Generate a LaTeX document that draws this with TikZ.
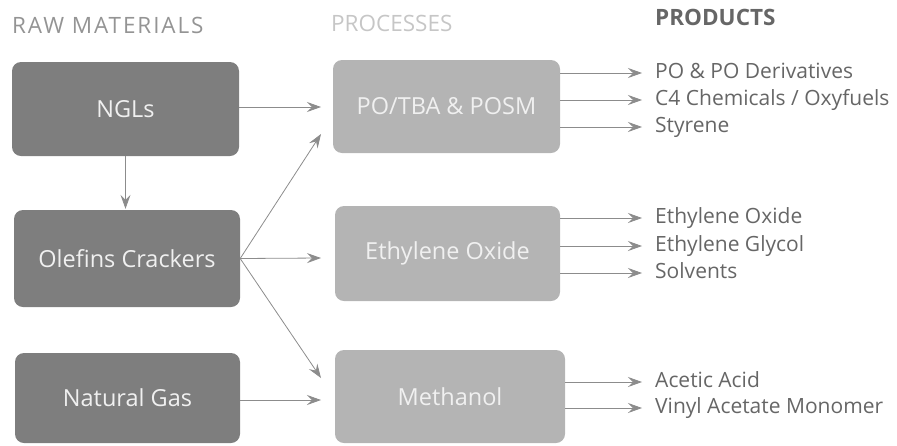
\documentclass[tikz,border=0pt]{standalone}
\usepackage{fontspec}
\setmainfont{Open Sans}
\usetikzlibrary{arrows.meta}
\definecolor{rawbox}{HTML}{7E7E7E}
\definecolor{procbox}{HTML}{B4B4B4}
\definecolor{linecol}{HTML}{8C8C8C}
\definecolor{prodtext}{HTML}{666666}
\definecolor{rawhead}{HTML}{949494}
\definecolor{prochead}{HTML}{C6C6C6}
\begin{document}
\begin{tikzpicture}[x=1pt,y=-1pt,
  rawstyle/.style={fill=rawbox,rounded corners=9pt},
  procstyle/.style={fill=procbox,rounded corners=9pt},
  boxtext/.style={inner sep=0pt,text=white!94!black,font=\fontsize{23.5}{28}\selectfont},
  prod/.style={anchor=west,inner sep=0pt,text=prodtext,text height=10pt,text depth=0pt,
    font=\fontsize{21}{25}\selectfont},
  head/.style={anchor=base west,inner sep=0pt},
  arr/.style={draw=linecol,line width=0.8pt,-{Stealth[length=14pt,width=10pt,inset=5pt]}}
]
\useasboundingbox (0,0) rectangle (897,445);
% headers
\node[head,text=rawhead,font=\fontsize{22.5}{26}\selectfont\addfontfeature{LetterSpace=8.5}] (h1) at (12,33) {RAW MATERIALS};
\node[head,text=prochead,font=\fontsize{22.5}{26}\selectfont] (h2) at (331,31) {PROCESSES};
\node[head,text=prodtext,font=\fontsize{22.5}{26}\selectfont\bfseries] (h3) at (655,25) {PRODUCTS};
% raw material boxes
\path[rawstyle] (12,62) rectangle (239,156);
\node[boxtext,minimum width=227pt,minimum height=94pt] (ngl) at (125.5,109) {NGLs};
\path[rawstyle] (14,210) rectangle (240,307);
\node[boxtext,minimum width=226pt,minimum height=97pt] (ole) at (127,258.5) {Olefins Crackers};
\path[rawstyle] (15,353) rectangle (240,443);
\node[boxtext,minimum width=225pt,minimum height=90pt] (ng) at (127.5,398) {Natural Gas};
% process boxes
\path[procstyle] (333,60) rectangle (560,153);
\node[boxtext,minimum width=227pt,minimum height=93pt] (po) at (446.5,106.5) {PO/TBA \& POSM};
\path[procstyle] (335,206) rectangle (560,301);
\node[boxtext,minimum width=225pt,minimum height=95pt] (eo) at (447.5,253.5) {Ethylene Oxide};
\path[procstyle] (335,350) rectangle (565,443);
\node[boxtext,minimum width=230pt,minimum height=93pt] (me) at (450,396.5) {Methanol};
% products
\node[prod] (p1) at (655,73) {PO \& PO Derivatives};
\node[prod] (p2) at (655,100) {C4 Chemicals / Oxyfuels};
\node[prod] (p3) at (655,127) {Styrene};
\node[prod] (p4) at (655,218) {Ethylene Oxide};
\node[prod] (p5) at (655,246) {Ethylene Glycol};
\node[prod] (p6) at (655,273) {Solvents};
\node[prod] (p7) at (655,382) {Acetic Acid};
\node[prod] (p8) at (655,408) {Vinyl Acetate Monomer};
% raw -> process
\coordinate (c1) at (321,107);
\coordinate (c2) at (321,134);
\coordinate (c3) at (321,258);
\coordinate (c4) at (321,378);
\coordinate (c5) at (321,400);
\draw[arr] (ngl.east |- c1) -- (c1);
\draw[arr] (ngl.south) -- ([yshift=1pt]ngl.south |- ole.north);
\draw[arr] (ole.east) -- (c2);
\draw[arr] (ole.east) -- (c3);
\draw[arr] (ole.east) -- (c4);
\draw[arr] (ng.east |- c5) -- (c5);
% process -> products
\foreach \p in {p1,p2,p3}{\draw[arr] (po.east |- \p.west) -- ([xshift=-13pt]\p.west);}
\foreach \p in {p4,p5,p6}{\draw[arr] (eo.east |- \p.west) -- ([xshift=-13pt]\p.west);}
\foreach \p in {p7,p8}{\draw[arr] (me.east |- \p.west) -- ([xshift=-13pt]\p.west);}
\end{tikzpicture}
\end{document}
